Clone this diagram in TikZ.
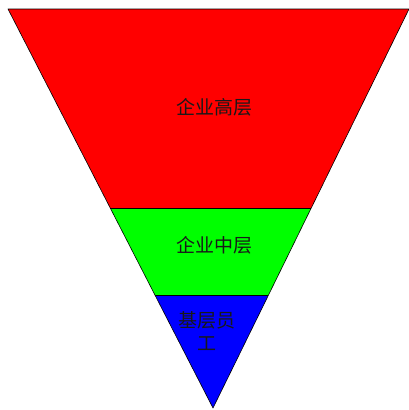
\documentclass[tikz,border=0pt]{standalone}
\usepackage{fontspec}
\newfontfamily\cjk{Noto Sans CJK SC}
\usetikzlibrary{calc}

\begin{document}
\begin{tikzpicture}[
    x=1pt, y=-1pt,
    layer/.style={draw=black, line width=0.6pt, line join=round},
    label/.style={font=\cjk\fontsize{19}{23}\selectfont, text=black!90, align=center, inner sep=0pt}
]

% Frame
\useasboundingbox (0,0) rectangle (408,410);

% Layers (top to bottom)
\coordinate (tl) at (8,9);
\coordinate (tr) at (409,9);
\coordinate (apex) at (213,408);
\coordinate (ml) at ($(tl)!0.499!(apex)$);
\coordinate (mr) at ($(tr)!0.499!(apex)$);
\coordinate (bl) at ($(tl)!0.718!(apex)$);
\coordinate (br) at ($(tr)!0.718!(apex)$);

\fill[red] (tl) -- (tr) -- (mr) -- (ml) -- cycle;
\fill[green] (ml) -- (mr) -- (br) -- (bl) -- cycle;
\fill[blue] (bl) -- (br) -- (apex) -- cycle;
\draw[layer] (tl) -- (tr) -- (apex) -- cycle;
\draw[line width=0.4pt] (ml) -- (mr);
\draw[line width=0.4pt] (bl) -- (br);

% Labels
\node[label] (top) at (214,107) {企业高层};
\node[label] (mid) at (214,245) {企业中层};
\node[label] (low) at (207,331) {基层员\\工};

\end{tikzpicture}
\end{document}
